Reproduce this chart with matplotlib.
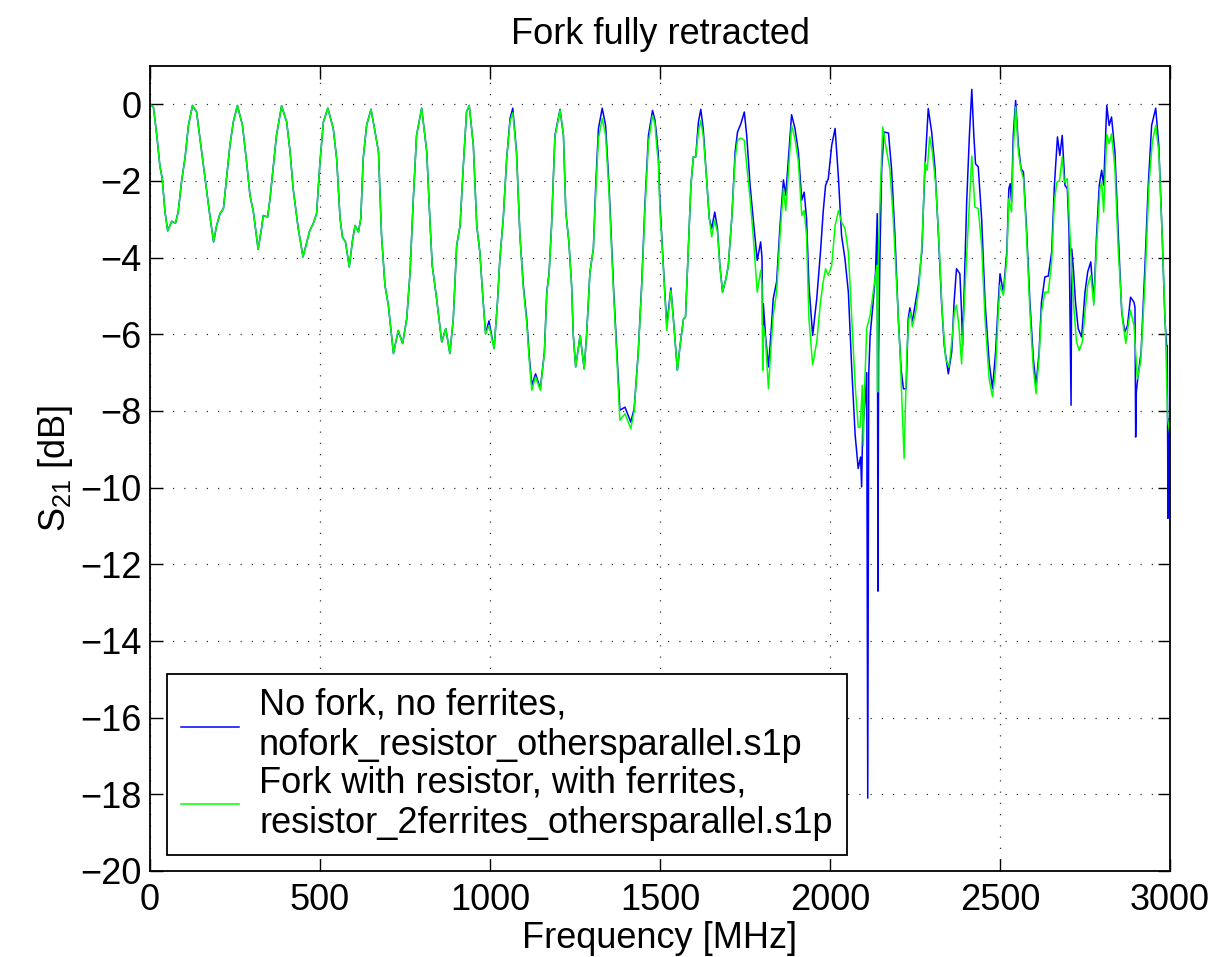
import numpy as np
import matplotlib
matplotlib.use("Agg")
import matplotlib.pyplot as plt

plt.rcParams['font.family'] = ['Liberation Sans', 'DejaVu Sans']
plt.rcParams['mathtext.fontset'] = 'custom'
plt.rcParams['mathtext.rm'] = 'Liberation Sans'
plt.rcParams['mathtext.it'] = 'Liberation Sans:italic'

# ---- data ----
freq_common = [0, 10, 20, 29, 36, 44, 52, 64, 75, 83, 93, 103, 113, 125, 137, 152, 167, 176, 187, 196,
               206, 216, 225, 235, 245, 257, 272, 284, 294, 304, 318, 328, 333, 346, 353, 363, 372, 387,
               402, 412, 421, 436, 450, 461, 470, 480, 490, 500, 510, 523, 539, 549, 559, 566, 575, 586,
               595, 603, 613, 620, 627, 637, 650, 662, 672, 681, 691, 701, 716, 730, 743, 755, 765, 774,
               784, 799, 814, 823, 830, 843, 858, 870, 882, 892, 902, 912, 921, 931, 939, 951, 961, 970, 980]
s21_common = [0, -0.07, -0.81, -1.6, -1.94, -2.8, -3.3, -3.05, -3.1, -2.8, -2.0, -1.4, -0.55, -0.03, -0.2,
              -1.24, -2.29, -2.9, -3.59, -3.16, -2.85, -2.72, -1.94, -1.07, -0.46, -0.03, -0.55, -1.5,
              -2.37, -2.8, -3.78, -3.24, -2.9, -2.94, -2.46, -1.6, -0.81, -0.04, -0.46, -1.24, -2.2, -3.24,
              -3.98, -3.6, -3.29, -3.11, -2.85, -1.5, -0.46, -0.1, -0.63, -1.42, -2.98, -3.46, -3.59, -4.24,
              -3.59, -3.16, -3.33, -2.98, -1.42, -0.55, -0.13, -0.72, -1.24, -3.42, -4.72, -5.24, -6.5,
              -5.9, -6.24, -5.6, -4.37, -2.55, -0.81, -0.1, -1.24, -2.98, -4.2, -5.07, -6.2, -5.85, -6.5,
              -5.6, -3.68, -3.16, -1.68, -0.2, -0.03, -1.07, -3.16, -3.85, -5.16]

freq_blue_tail = [987, 997, 1012, 1022, 1029, 1039, 1049, 1059, 1067, 1078, 1088, 1098, 1108, 1116, 1123,
                  1134, 1148, 1160, 1167, 1174, 1181, 1191, 1206, 1216, 1223, 1232, 1240, 1245, 1252, 1265,
                  1277, 1284, 1294, 1304, 1311, 1319, 1330, 1340, 1350, 1363, 1373, 1382, 1397, 1414, 1424,
                  1436, 1446, 1456, 1466, 1478, 1485, 1490, 1495, 1500, 1505, 1513, 1520, 1532, 1541, 1551,
                  1559, 1569, 1575, 1583, 1591, 1598, 1605, 1613, 1620, 1627, 1637, 1645, 1652, 1661, 1669,
                  1676, 1684, 1694, 1701, 1711, 1721, 1728, 1738, 1748, 1755, 1765, 1774, 1786, 1796, 1800,
                  1802, 1804, 1810, 1819, 1826, 1833, 1843, 1853, 1863, 1870, 1877, 1887, 1897, 1907, 1917,
                  1924, 1931, 1938, 1949, 1961, 1972, 1980, 1987, 1995, 2005, 2015, 2025, 2034, 2044, 2054,
                  2064, 2074, 2083, 2090, 2093, 2096, 2103, 2108, 2111, 2114, 2118, 2127, 2134, 2139, 2141,
                  2143, 2147, 2152, 2159, 2172, 2181, 2191, 2201, 2209, 2216, 2224, 2230, 2235, 2242, 2250,
                  2260, 2270, 2279, 2289, 2299, 2309, 2319, 2328, 2336, 2348, 2358, 2365, 2372, 2382, 2387,
                  2390, 2395, 2402, 2410, 2417, 2423, 2428, 2436, 2446, 2456, 2468, 2478, 2487, 2495, 2500,
                  2510, 2520, 2526, 2530, 2534, 2539, 2546, 2554, 2562, 2569, 2578, 2588, 2598, 2606, 2615,
                  2622, 2632, 2642, 2652, 2660, 2669, 2676, 2683, 2691, 2698, 2703, 2709, 2711, 2716, 2722,
                  2730, 2740, 2750, 2758, 2767, 2776, 2784, 2792, 2799, 2805, 2814, 2821, 2828, 2838, 2848,
                  2858, 2867, 2875, 2884, 2894, 2897, 2899, 2901, 2905, 2915, 2926, 2936, 2946, 2958, 2967,
                  2977, 2985, 2990, 2992, 2994, 2997, 3000]
s21_blue_tail = [-5.98, -5.65, -6.37, -5.16, -4.03, -2.98, -1.42, -0.37, -0.1, -1.24, -3.42, -4.72, -5.6,
                 -6.63, -7.33, -7.03, -7.42, -6.46, -4.9, -4.37, -3.16, -0.81, -0.13, -0.81, -2.81, -3.59,
                 -4.72, -6.03, -6.85, -6.03, -6.9, -6.03, -4.37, -3.77, -2.11, -0.63, -0.1, -0.55, -2.11,
                 -4.72, -6.46, -7.98, -7.9, -8.29, -7.94, -6.46, -4.72, -2.55, -0.81, -0.16, -0.4, -0.81,
                 -1.3, -2.6, -3.42, -4.72, -5.77, -4.79, -5.77, -6.94, -6.29, -5.6, -5.55, -3.85, -2.11,
                 -1.37, -1.37, -0.46, -0.13, -0.63, -1.94, -2.98, -3.24, -2.81, -3.24, -4.2, -4.9, -4.55,
                 -4.2, -2.98, -1.24, -0.72, -0.5, -0.2, -0.81, -2.11, -2.98, -4.07, -3.59, -4.0, -5.77,
                 -5.2, -6.0, -6.85, -6.03, -5.07, -4.63, -3.16, -1.97, -2.37, -1.5, -0.27, -0.63, -1.24,
                 -2.5, -2.29, -2.98, -4.72, -6.03, -5.07, -3.85, -2.8, -2.11, -1.94, -1.07, -0.63, -1.94,
                 -3.42, -4.03, -4.9, -6.9, -8.63, -9.5, -9.2, -9.98, -8.5, -7.77, -7.0, -18.1, -7.0, -6.03,
                 -5.16, -4.37, -2.85, -12.7, -6.5, -3.85, -1.68, -0.72, -0.75, -1.68, -3.42, -5.6, -6.9,
                 -7.42, -7.42, -5.6, -5.31, -5.68, -5.24, -4.72, -3.85, -1.68, -0.11, -0.72, -1.68, -3.42,
                 -5.16, -6.29, -7.03, -6.46, -5.16, -4.29, -4.42, -5.42, -6.29, -4.72, -2.55, -0.81, 0.39,
                 -0.81, -1.55, -1.63, -2.98, -5.16, -6.72, -7.42, -6.46, -5.16, -4.42, -4.9, -3.85, -2.2,
                 -2.07, -2.55, -0.81, 0.1, -1.07, -1.68, -1.77, -3.24, -5.16, -6.63, -7.33, -6.46, -5.16,
                 -4.5, -4.48, -3.85, -2.11, -0.85, -1.33, -0.81, -2.11, -2.2, -3.3, -7.85, -3.77, -4.3,
                 -5.16, -5.85, -6.07, -4.9, -4.37, -4.11, -5.16, -3.42, -2.11, -1.72, -2.11, -0.03, -0.55,
                 -0.33, -1.24, -3.42, -5.42, -5.94, -5.77, -5.03, -5.16, -5.3, -8.68, -7.5, -7.16, -6.46,
                 -4.29, -2.11, -0.55, -0.1, -1.07, -3.42, -5.6, -6.29, -6.3, -10.8, -8.2, -8.2]

freq_green_tail = [987, 997, 1012, 1022, 1029, 1039, 1049, 1059, 1067, 1078, 1088, 1098, 1108, 1116, 1123,
                   1134, 1148, 1160, 1167, 1174, 1181, 1191, 1206, 1216, 1223, 1232, 1240, 1245, 1252, 1265,
                   1277, 1284, 1294, 1304, 1311, 1319, 1330, 1340, 1350, 1363, 1373, 1382, 1397, 1414, 1424,
                   1436, 1446, 1456, 1466, 1478, 1485, 1490, 1495, 1500, 1505, 1513, 1520, 1532, 1541, 1551,
                   1559, 1569, 1575, 1583, 1591, 1598, 1605, 1613, 1620, 1627, 1637, 1645, 1652, 1661, 1669,
                   1676, 1684, 1694, 1701, 1711, 1721, 1728, 1738, 1748, 1755, 1765, 1774, 1786, 1796, 1800,
                   1802, 1804, 1810, 1819, 1826, 1833, 1843, 1853, 1863, 1870, 1877, 1887, 1897, 1907, 1917,
                   1924, 1931, 1938, 1949, 1961, 1972, 1980, 1987, 1995, 2005, 2015, 2025, 2034, 2044, 2054,
                   2064, 2074, 2083, 2089, 2095, 2098, 2101, 2108, 2118, 2127, 2134, 2138, 2140, 2142, 2147,
                   2155, 2167, 2176, 2186, 2196, 2206, 2218, 2226, 2232, 2237, 2242, 2252, 2262, 2272, 2279,
                   2286, 2293, 2301, 2311, 2321, 2330, 2340, 2350, 2360, 2366, 2372, 2379, 2387, 2395, 2405,
                   2417, 2426, 2436, 2446, 2456, 2468, 2478, 2487, 2495, 2500, 2510, 2520, 2526, 2534, 2539,
                   2546, 2554, 2562, 2569, 2578, 2588, 2598, 2606, 2615, 2622, 2632, 2642, 2652, 2660, 2667,
                   2675, 2683, 2689, 2698, 2706, 2716, 2725, 2733, 2742, 2750, 2758, 2767, 2776, 2784, 2794,
                   2799, 2805, 2814, 2821, 2828, 2838, 2848, 2860, 2870, 2877, 2884, 2894, 2904, 2914, 2926,
                   2938, 2948, 2958, 2967, 2977, 2987, 2993, 3000]
s21_green_tail = [-6.0, -5.77, -6.37, -5.16, -4.03, -2.98, -1.42, -0.45, -0.22, -1.3, -3.42, -4.8, -5.7,
                  -6.75, -7.46, -7.11, -7.46, -6.5, -4.95, -4.4, -3.2, -0.85, -0.15, -0.81, -2.81, -3.59,
                  -4.72, -6.03, -6.85, -6.03, -6.9, -6.03, -4.37, -3.77, -2.3, -0.9, -0.37, -0.81, -2.3,
                  -4.85, -6.6, -8.24, -8.07, -8.46, -8.0, -6.5, -4.8, -2.7, -1.0, -0.29, -0.5, -1.07, -1.5,
                  -2.8, -3.5, -4.8, -5.9, -4.85, -5.8, -6.94, -6.3, -5.6, -5.55, -3.85, -2.11, -1.37, -1.37,
                  -0.72, -0.42, -0.81, -1.94, -2.98, -3.46, -3.03, -3.33, -4.2, -4.9, -4.55, -4.2, -2.98,
                  -1.42, -0.94, -0.88, -0.94, -1.59, -2.46, -3.42, -4.9, -4.33, -4.7, -6.94, -5.8, -6.1,
                  -7.42, -6.4, -5.5, -4.9, -3.42, -2.2, -2.77, -1.85, -0.55, -0.9, -1.5, -2.9, -2.77, -3.42,
                  -5.6, -6.8, -6.2, -5.16, -4.63, -4.29, -4.46, -4.2, -3.16, -2.77, -3.07, -3.24, -3.85,
                  -5.6, -7.33, -8.42, -8.42, -7.33, -8.9, -7.6, -5.85, -5.5, -4.9, -4.46, -4.2, -7.5, -4.0,
                  -2.55, -0.59, -1.24, -1.68, -2.98, -4.72, -6.46, -9.24, -6.46, -5.6, -5.42, -5.8, -5.42,
                  -4.72, -3.42, -1.5, -1.72, -0.85, -1.24, -2.11, -3.68, -5.42, -6.63, -6.85, -6.03, -5.42,
                  -5.24, -5.77, -6.77, -5.16, -3.42, -1.35, -2.68, -2.72, -3.68, -5.6, -7.16, -7.63, -6.9,
                  -5.42, -4.72, -4.98, -4.03, -2.46, -2.81, -1.24, -0.07, -1.24, -1.72, -1.94, -3.4, -5.42,
                  -6.9, -7.55, -6.6, -5.42, -4.9, -4.9, -4.11, -2.55, -2.03, -2.0, -1.37, -2.03, -1.94,
                  -3.42, -5.16, -6.2, -6.42, -6.2, -5.42, -4.72, -4.46, -5.24, -3.68, -2.2, -2.03, -2.81,
                  -0.77, -1.03, -0.77, -1.68, -3.85, -5.6, -6.24, -5.77, -5.37, -5.77, -7.16, -6.7, -4.72,
                  -2.11, -0.98, -0.55, -1.24, -3.42, -6.03, -8.2, -8.63]

labels = ["No fork, no ferrites,\nnofork_resistor_othersparallel.s1p",
          "Fork with resistor, with ferrites,\nresistor_2ferrites_othersparallel.s1p"]
x_ticks = [0, 500, 1000, 1500, 2000, 2500, 3000]
y_ticks = list(range(-20, 1, 2))

freq_blue = freq_common + freq_blue_tail
s21_blue = s21_common + s21_blue_tail
freq_green = freq_common + freq_green_tail
s21_green = s21_common + s21_green_tail

FS = 26

fig = plt.figure(figsize=(12.14, 9.57), dpi=100)
ax = fig.add_axes([150/1214, 1 - 871/957, 1020/1214, 805/957])

ax.plot(freq_blue, s21_blue, color='#0000ff', lw=1.1, label=labels[0])
ax.plot(freq_green, s21_green, color='#00ff00', lw=1.1, label=labels[1])

ax.set_xlim(0, 3000)
ax.set_ylim(-20, 1)
ax.set_xticks(x_ticks)
ax.set_yticks(y_ticks)
ax.set_yticklabels([("\u2212" + str(-t)) if t < 0 else str(t) for t in y_ticks])
ax.tick_params(direction='in', length=9, width=1, top=True, right=True, labelsize=FS)
ax.tick_params(axis='x', pad=9)
ax.tick_params(axis='y', pad=6)
ax.grid(True, color='black', linestyle=(0, (1, 8)), linewidth=0.9, alpha=0.8)
for s in ax.spines.values():
    s.set_linewidth(1.3)

ax.set_title("Fork fully retracted", fontsize=FS, pad=16)
ax.set_xlabel("Frequency [MHz]", fontsize=FS, labelpad=2)
ax.set_ylabel("S$_{21}$ [dB]", fontsize=FS, labelpad=4)

leg = ax.legend(loc='lower left', bbox_to_anchor=(17/1020, 16/805), borderaxespad=0,
                fontsize=FS, fancybox=False, framealpha=1, edgecolor='black',
                handlelength=1.6, handletextpad=0.55, labelspacing=0.05, borderpad=0.4)
leg.get_frame().set_linewidth(1.3)

fig.savefig("out.png", dpi=100)
